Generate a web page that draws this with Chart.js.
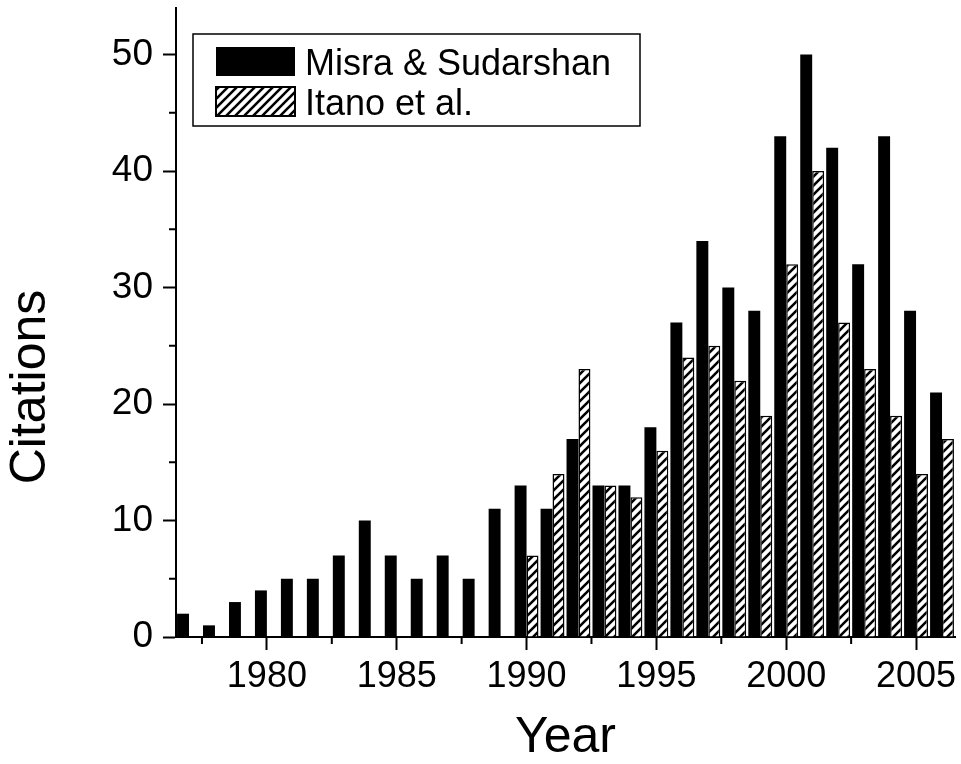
<!DOCTYPE html>
<html>
<head>
<meta charset="utf-8">
<title>Citations per year</title>
<script src="https://cdn.jsdelivr.net/npm/chart.js@4.4.0/dist/chart.umd.min.js"></script>
<style>
  body { margin: 0; background: #fff; }
  #chart { display: block; }
</style>
</head>
<body>
<canvas id="chart" width="961" height="764"></canvas>
<script>
const years = [
  1977, 1978, 1979, 1980, 1981, 1982, 1983, 1984, 1985, 1986,
  1987, 1988, 1989, 1990, 1991, 1992, 1993, 1994, 1995, 1996,
  1997, 1998, 1999, 2000, 2001, 2002, 2003, 2004, 2005, 2006,
];
const misraCitations = [
  2, 1, 3, 4, 5, 5, 7, 10, 7, 5,
  7, 5, 11, 13, 11, 17, 13, 13, 18, 27,
  34, 30, 28, 43, 50, 42, 32, 43, 28, 21,
];
const itanoYears = [
  1990, 1991, 1992, 1993, 1994, 1995, 1996, 1997, 1998,
  1999, 2000, 2001, 2002, 2003, 2004, 2005, 2006,
];
const itanoCitations = [
  7, 14, 23, 13, 12, 16, 24, 25, 22,
  19, 32, 40, 27, 23, 19, 14, 17,
];
// tick positions on the year axis; only the whole five-year ones get a label
const yearTicks = [
  1977.5, 1980, 1982.5, 1985, 1987.5, 1990,
  1992.5, 1995, 1997.5, 2000, 2002.5, 2005,
];
const yearLabels = [1980, 1985, 1990, 1995, 2000, 2005];
const citationLabels = [0, 10, 20, 30, 40, 50];

const FONT = "'Liberation Sans', Arial, Helvetica, sans-serif";
Chart.defaults.font.family = FONT;
Chart.defaults.color = "#000";

// diagonal hatch tile for the second series
function makeHatchTile() {
  const size = 9;
  const tile = document.createElement("canvas");
  tile.width = size;
  tile.height = size;
  const g = tile.getContext("2d");
  g.fillStyle = "#fff";
  g.fillRect(0, 0, size, size);
  g.strokeStyle = "#000";
  g.lineWidth = 2.6;
  g.beginPath();
  g.moveTo(-2, size + 2);
  g.lineTo(size + 2, -2);
  g.moveTo(-2, 2);
  g.lineTo(2, -2);
  g.moveTo(size - 2, size + 2);
  g.lineTo(size + 2, size - 2);
  g.stroke();
  return tile;
}

const minorTicks = {
  id: "minorTicks",
  afterDraw(chart) {
    const { ctx, chartArea, scales } = chart;
    ctx.save();
    ctx.strokeStyle = "#000";
    ctx.lineWidth = 2;
    ctx.beginPath();
    scales.x.ticks.forEach((t) => {
      if (yearLabels.includes(t.value)) return;
      const px = scales.x.getPixelForValue(t.value);
      ctx.moveTo(px, chartArea.bottom);
      ctx.lineTo(px, chartArea.bottom + 7);
    });
    scales.y.ticks.forEach((t) => {
      if (citationLabels.includes(t.value)) return;
      const py = scales.y.getPixelForValue(t.value);
      ctx.moveTo(chartArea.left, py);
      ctx.lineTo(chartArea.left - 7, py);
    });
    ctx.stroke();
    ctx.restore();
  },
};

const yTitle = {
  id: "yTitle",
  afterDraw(chart) {
    const { ctx } = chart;
    ctx.save();
    ctx.translate(45, 387);
    ctx.rotate(-Math.PI / 2);
    ctx.font = "50px " + FONT;
    ctx.fillStyle = "#000";
    ctx.textAlign = "center";
    ctx.textBaseline = "alphabetic";
    ctx.fillText("Citations", 0, 0);
    ctx.restore();
  },
};

const boxedLegend = {
  id: "boxedLegend",
  afterDraw(chart) {
    const { ctx, chartArea } = chart;
    const x = chartArea.left + 17;
    const y = chartArea.top + 26;
    ctx.save();
    ctx.fillStyle = "#fff";
    ctx.fillRect(x, y, 447, 92);
    ctx.strokeStyle = "#000";
    ctx.lineWidth = 1.5;
    ctx.strokeRect(x, y, 447, 92);
    chart.data.datasets.forEach((ds, i) => {
      const sy = y + 13 + i * 40;
      ctx.fillStyle = ds.backgroundColor;
      ctx.fillRect(x + 23, sy, 79, 29);
      if (ds.borderWidth) {
        ctx.lineWidth = 2;
        ctx.strokeRect(x + 23, sy, 79, 29);
      }
      ctx.fillStyle = "#000";
      ctx.font = "36px " + FONT;
      ctx.textBaseline = "alphabetic";
      ctx.fillText(ds.label, x + 112, sy + 28);
    });
    ctx.restore();
  },
};

const ctx = document.getElementById("chart").getContext("2d");
const hatch = ctx.createPattern(makeHatchTile(), "repeat");

new Chart(ctx, {
  type: "bar",
  data: {
    datasets: [
      {
        label: "Misra & Sudarshan",
        data: years.map((yr, i) => ({ x: yr, y: misraCitations[i] })),
        backgroundColor: "#000",
        borderColor: "#000",
        borderWidth: 0,
        categoryPercentage: 0.92,
        barPercentage: 1,
      },
      {
        label: "Itano et al.",
        data: itanoYears.map((yr, i) => ({ x: yr, y: itanoCitations[i] })),
        backgroundColor: hatch,
        borderColor: "#000",
        borderWidth: 1.5,
        categoryPercentage: 0.92,
        barPercentage: 1,
      },
    ],
  },
  options: {
    responsive: false,
    animation: false,
    layout: { padding: { top: 8, right: 6, left: 0, bottom: 0 } },
    plugins: {
      legend: { display: false },
      tooltip: { enabled: false },
    },
    scales: {
      x: {
        type: "linear",
        min: 1976.5,
        max: 2006.5,
        offset: false,
        border: { display: true, color: "#000", width: 2 },
        grid: {
          offset: false,
          drawOnChartArea: false,
          tickLength: 13,
          tickWidth: 2,
          tickColor: (c) =>
            c.tick && yearLabels.includes(c.tick.value) ? "#000" : "rgba(0,0,0,0)",
        },
        ticks: {
          autoSkip: false,
          maxRotation: 0,
          padding: 5,
          font: { size: 36 },
          callback: (v) => (yearLabels.includes(v) ? String(v) : ""),
        },
        title: {
          display: true,
          text: "Year",
          font: { size: 50, lineHeight: 1 },
          padding: { top: 0, bottom: 1 },
        },
        afterBuildTicks: (s) => {
          s.ticks = yearTicks.map((v) => ({ value: v }));
        },
        afterFit: (s) => {
          s.height = 127;
          s.paddingLeft = 0;
          s.paddingRight = 0;
        },
      },
      y: {
        min: 0,
        max: 54,
        border: { display: true, color: "#000", width: 2 },
        grid: {
          drawOnChartArea: false,
          tickLength: 13,
          tickWidth: 2,
          tickColor: (c) =>
            c.tick && citationLabels.includes(c.tick.value) ? "#000" : "rgba(0,0,0,0)",
        },
        ticks: {
          stepSize: 5,
          includeBounds: false,
          padding: 10,
          font: { size: 37 },
          callback: (v) => (citationLabels.includes(v) ? String(v) : ""),
        },
        afterFit: (s) => {
          s.width = 176;
          s.paddingTop = 0;
          s.paddingBottom = 0;
        },
      },
    },
  },
  plugins: [minorTicks, yTitle, boxedLegend],
});
</script>
</body>
</html>
